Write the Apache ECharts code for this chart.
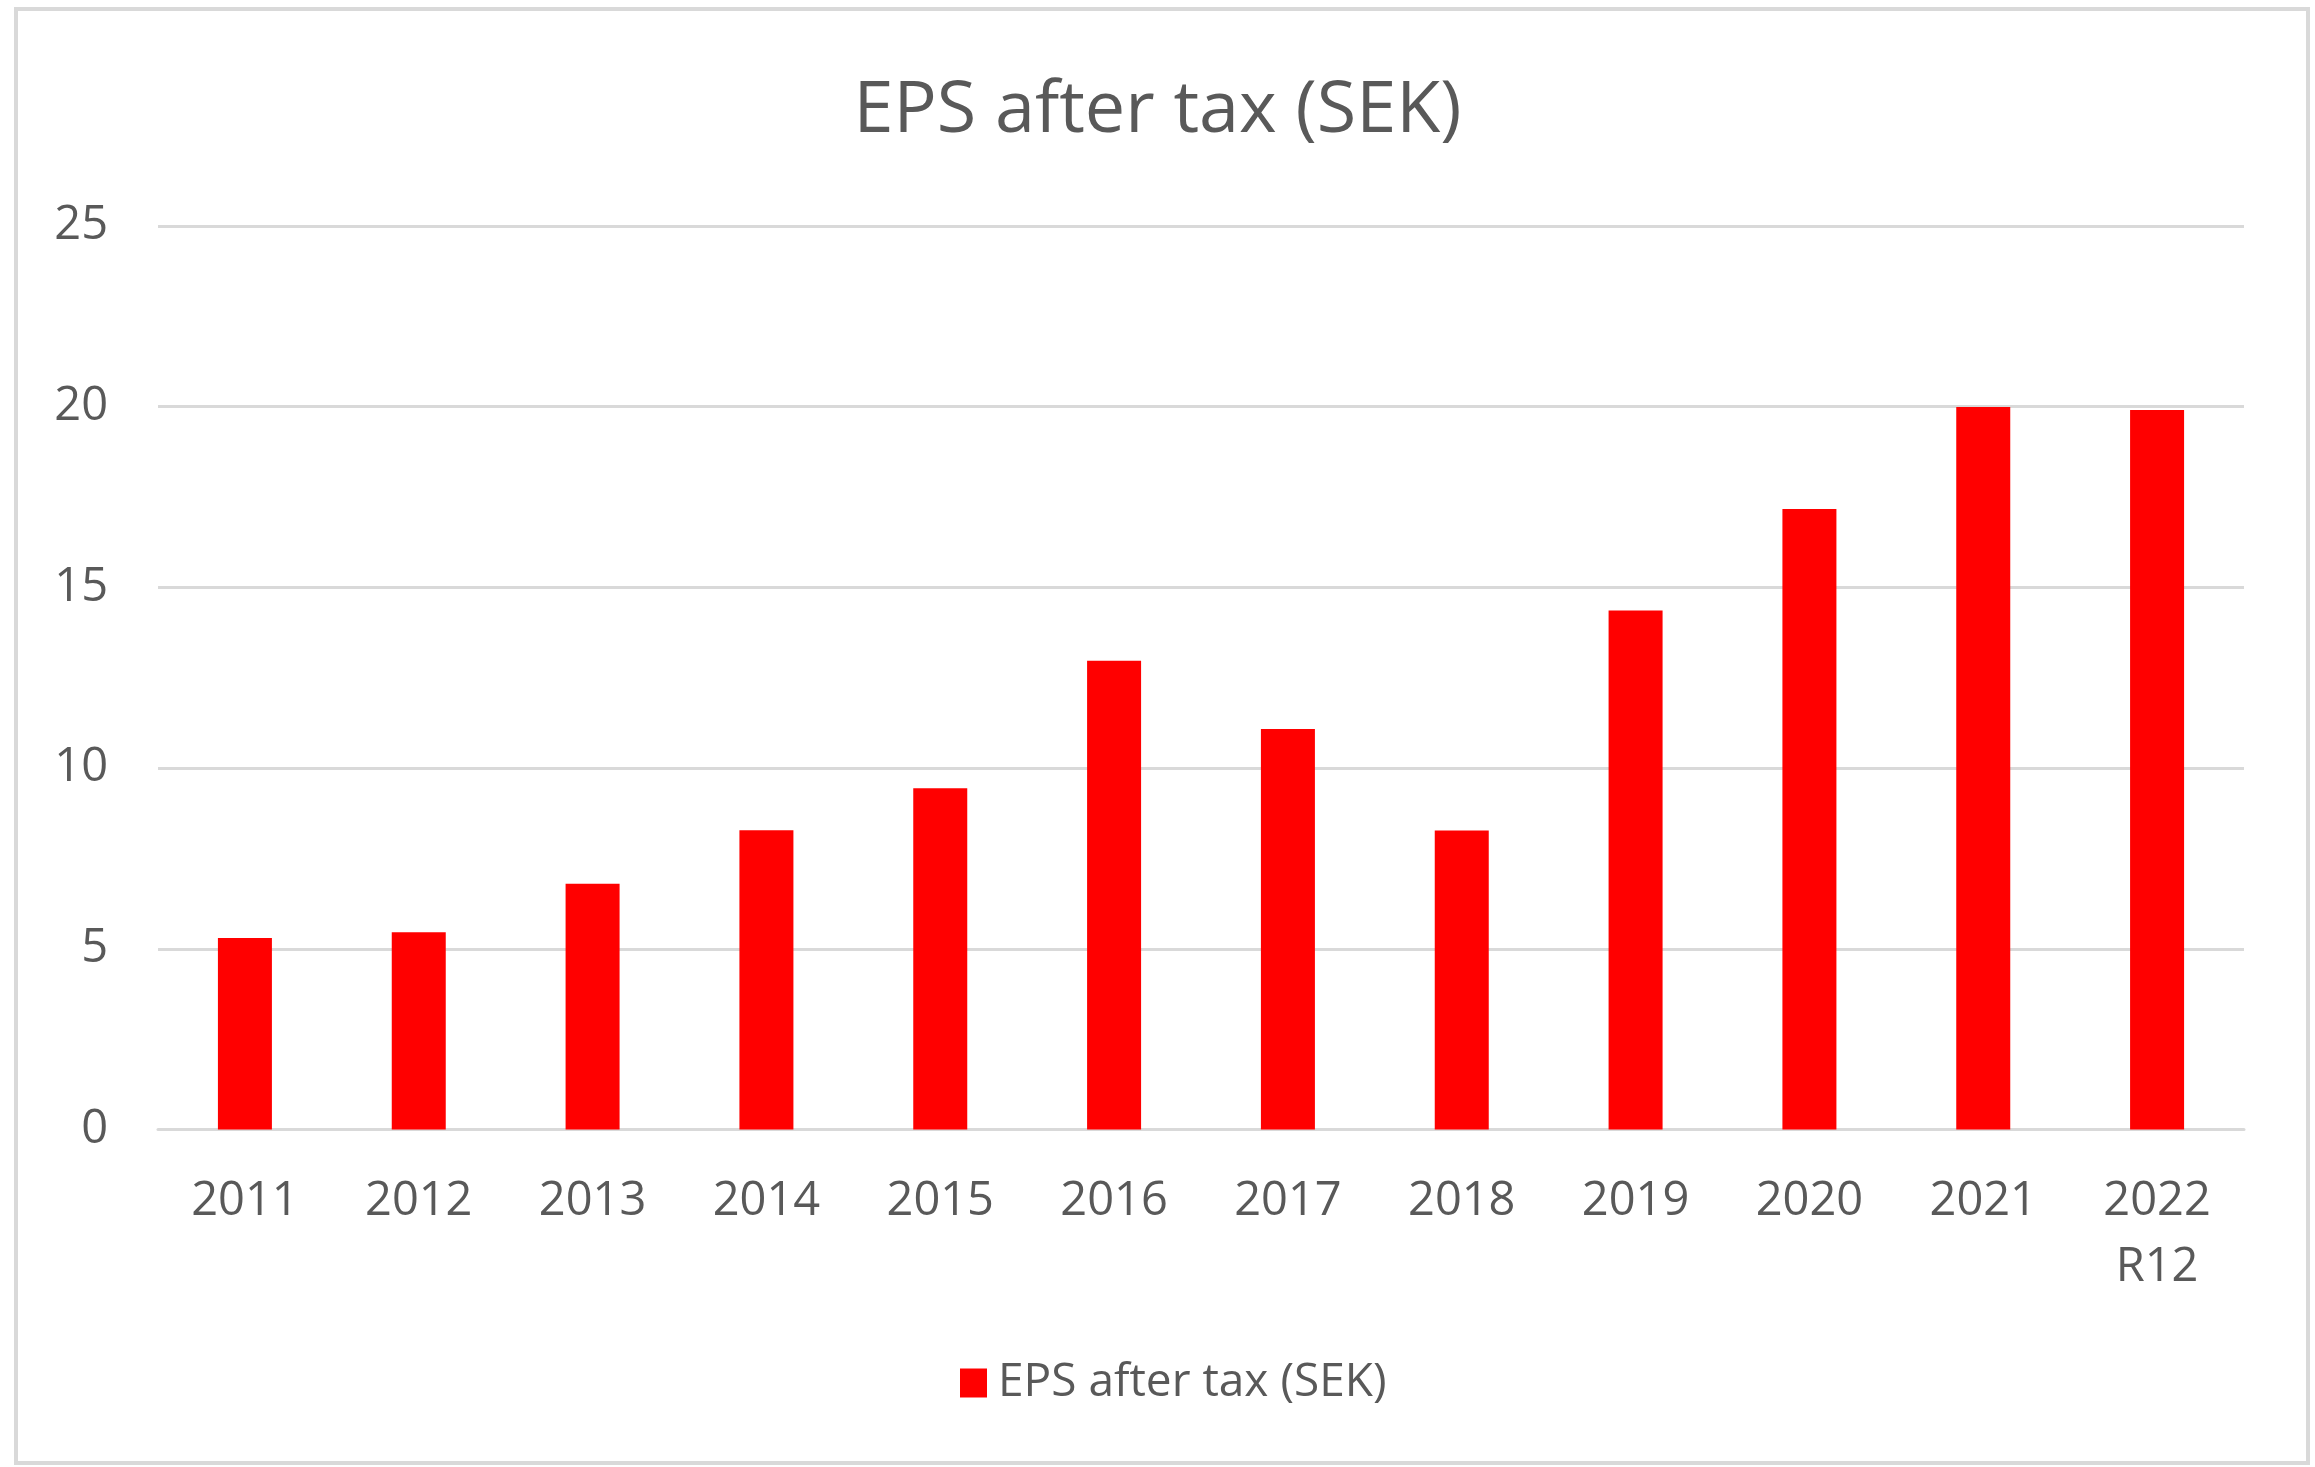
<!DOCTYPE html>
<html>
<head>
<meta charset="utf-8">
<script src="https://cdn.jsdelivr.net/npm/echarts@6/dist/echarts.min.js"></script>
<style>
html,body{margin:0;padding:0;background:#fff;}
#chart{width:2315px;height:1467px;}
</style>
</head>
<body>
<div id="chart"></div>
<script>
const categories = ['2011','2012','2013','2014','2015','2016','2017','2018','2019','2020','2021','2022\nR12'];
const epsValues = [5.3, 5.46, 6.8, 8.28, 9.44, 12.97, 11.08, 8.27, 14.36, 17.17, 19.99, 19.91];
const seriesName = 'EPS after tax (SEK)';
const titleText = 'EPS after tax (SEK)';

const FONT = '"Open Sans", "Noto Sans", sans-serif';
const TXT = '#595959';

const chart = echarts.init(document.getElementById('chart'), null, {renderer: 'canvas'});
chart.setOption({
  backgroundColor: '#ffffff',
  animation: false,
  title: {
    text: titleText,
    left: 'center',
    top: 70,
    textStyle: {fontFamily: FONT, fontSize: 72, fontWeight: 'normal', color: TXT}
  },
  graphic: [{
    type: 'rect',
    shape: {x: 16, y: 9, width: 2292, height: 1454},
    style: {fill: 'none', stroke: '#d9d9d9', lineWidth: 4},
    silent: true
  }],
  legend: {
    left: 955,
    top: 1355,
    itemWidth: 27,
    itemHeight: 29,
    icon: 'rect',
    data: [seriesName],
    textStyle: {fontFamily: FONT, fontSize: 46, color: TXT, padding: [0, 0, 0, 6]}
  },
  grid: {left: 158, right: 71, top: 226, bottom: 337.5, containLabel: false},
  xAxis: {
    type: 'category',
    data: categories,
    axisLine: {show: true, lineStyle: {color: '#d9d9d9', width: 3}},
    axisTick: {show: false},
    axisLabel: {
      fontFamily: FONT, fontSize: 47, color: TXT,
      margin: 39, lineHeight: 66, interval: 0
    }
  },
  yAxis: {
    type: 'value',
    min: 0, max: 25, interval: 5,
    axisLine: {show: false},
    axisTick: {show: false},
    splitLine: {lineStyle: {color: '#d9d9d9', width: 3}},
    axisLabel: {fontFamily: FONT, fontSize: 47, color: TXT, margin: 50}
  },
  series: [{
    name: seriesName,
    type: 'bar',
    data: epsValues,
    barWidth: 54,
    itemStyle: {color: '#ff0000'}
  }]
});
</script>
</body>
</html>
